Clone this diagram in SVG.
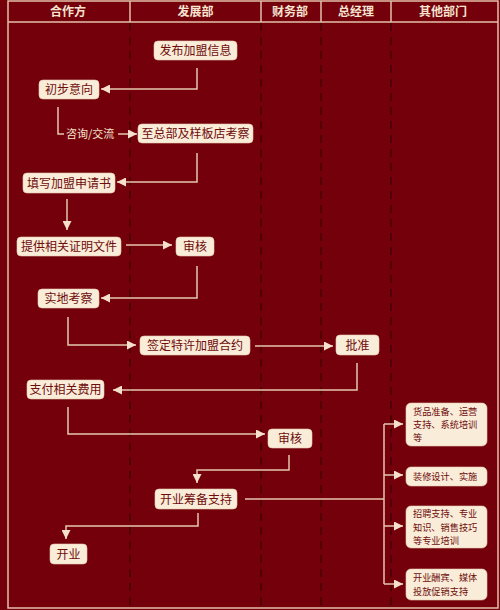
<svg xmlns="http://www.w3.org/2000/svg" width="500" height="610" viewBox="0 0 500 610">
<style>
.bg{fill:#73000a}
.frame{fill:none;stroke:#e3c0a8;stroke-width:1.5}
.lane{stroke:#3a0004;stroke-width:1.2;stroke-dasharray:8 6}
.hd{font-family:"Noto Sans CJK SC","Noto Sans",sans-serif;font-size:12px;font-weight:bold;fill:#f6e4d0;text-anchor:middle}
.node rect{fill:#f9ecd8;stroke:#e8cdb4;stroke-width:0.6}
.node text{font-family:"Noto Sans CJK SC","Noto Sans",sans-serif;font-size:12px;fill:#6e0b0b;text-anchor:middle}
.node text.s{font-size:9.2px;text-anchor:start}
.con path{fill:none;stroke:#e6c6ae;stroke-width:1.5}
.lbl{font-family:"Noto Sans CJK SC","Noto Sans",sans-serif;font-size:11px;fill:#f6e4d0}
</style>
<defs>
<marker id="ah" viewBox="0 0 10 10" refX="10" refY="5" markerWidth="6" markerHeight="6" markerUnits="strokeWidth" orient="auto">
<path d="M0,0 L10,5 L0,10 Z" fill="#f4e0cc"/>
</marker>
</defs>
<rect class="bg" x="0" y="0" width="500" height="610"/>
<g id="lanes">
<line class="lane" x1="130" y1="23" x2="130" y2="608"/>
<line class="lane" x1="261" y1="23" x2="261" y2="608"/>
<line class="lane" x1="321" y1="23" x2="321" y2="608"/>
<line class="lane" x1="391" y1="23" x2="391" y2="608"/>
</g>
<g id="header">
<rect class="frame" x="8" y="1" width="490" height="607"/>
<line class="frame" x1="8" y1="22" x2="498" y2="22"/>
<line class="frame" x1="130" y1="1" x2="130" y2="22"/>
<line class="frame" x1="261" y1="1" x2="261" y2="22"/>
<line class="frame" x1="321" y1="1" x2="321" y2="22"/>
<line class="frame" x1="391" y1="1" x2="391" y2="22"/>
<text class="hd" x="68" y="16">合作方</text>
<text class="hd" x="195.5" y="16">发展部</text>
<text class="hd" x="290" y="16">财务部</text>
<text class="hd" x="356" y="16">总经理</text>
<text class="hd" x="443" y="16">其他部门</text>
</g>
<g id="connectors" class="con">
<path d="M197,68 V89 H101" marker-end="url(#ah)"/>
<path d="M58,107 V134 H64"/>
<path d="M118,134 H137" marker-end="url(#ah)"/>
<path d="M197,153 V182 H117" marker-end="url(#ah)"/>
<path d="M67,199 V230" marker-end="url(#ah)"/>
<path d="M126,245 H172" marker-end="url(#ah)"/>
<path d="M197,266 V298 H101" marker-end="url(#ah)"/>
<path d="M68,317 V345 H136" marker-end="url(#ah)"/>
<path d="M255,346 H333" marker-end="url(#ah)"/>
<path d="M357,363 V390 H113" marker-end="url(#ah)"/>
<path d="M68,407 V434 H265" marker-end="url(#ah)"/>
<path d="M289,455 V470 H197 V483" marker-end="url(#ah)"/>
<path d="M198,513 V526 H66 V539" marker-end="url(#ah)"/>
<path d="M245,499 H384"/>
<path d="M384,424 V584"/>
<path d="M384,424 H403" marker-end="url(#ah)"/>
<path d="M384,475 H403" marker-end="url(#ah)"/>
<path d="M384,526 H403" marker-end="url(#ah)"/>
<path d="M384,584 H403" marker-end="url(#ah)"/>
<text class="lbl" x="66" y="138">咨询/交流</text>
</g>
<g id="n1" class="node"><rect x="154" y="41" width="83" height="19" rx="4"/><text x="195.5" y="55">发布加盟信息</text></g>
<g id="n2" class="node"><rect x="39" y="80" width="60" height="19" rx="4"/><text x="69" y="94">初步意向</text></g>
<g id="n3" class="node"><rect x="138" y="124" width="115" height="19" rx="4"/><text x="195.5" y="138">至总部及样板店考察</text></g>
<g id="n4" class="node"><rect x="23" y="173" width="92" height="20" rx="4"/><text x="69" y="187.5">填写加盟申请书</text></g>
<g id="n5" class="node"><rect x="17" y="237" width="104" height="19" rx="4"/><text x="69" y="251">提供相关证明文件</text></g>
<g id="n6" class="node"><rect x="176" y="237" width="38" height="19" rx="4"/><text x="195" y="251">审核</text></g>
<g id="n7" class="node"><rect x="38" y="289" width="61" height="19" rx="4"/><text x="68.5" y="303">实地考察</text></g>
<g id="n8" class="node"><rect x="140" y="336" width="110" height="19" rx="4"/><text x="195" y="350">签定特许加盟合约</text></g>
<g id="n9" class="node"><rect x="336" y="335" width="43" height="20" rx="4"/><text x="357.5" y="349.5">批准</text></g>
<g id="n10" class="node"><rect x="27" y="380" width="77" height="19" rx="4"/><text x="65.5" y="394">支付相关费用</text></g>
<g id="n11" class="node"><rect x="268" y="429" width="44" height="19" rx="4"/><text x="290" y="443">审核</text></g>
<g id="n12" class="node"><rect x="155" y="489" width="82" height="20" rx="4"/><text x="196" y="503.5">开业筹备支持</text></g>
<g id="n13" class="node"><rect x="50" y="544" width="37" height="20" rx="4"/><text x="68.5" y="558.5">开业</text></g>
<g id="n14" class="node"><rect x="406" y="403" width="81" height="43" rx="5"/><text class="s" x="413" y="414.6"><tspan x="413">货品准备、运营</tspan><tspan x="413" dy="13.4">支持、系统培训</tspan><tspan x="413" dy="13.4">等</tspan></text></g>
<g id="n15" class="node"><rect x="406" y="467" width="81" height="19" rx="5"/><text class="s" x="413" y="480">装修设计、实施</text></g>
<g id="n16" class="node"><rect x="406" y="506" width="81" height="42" rx="5"/><text class="s" x="413" y="517.1"><tspan x="413">招聘支持、专业</tspan><tspan x="413" dy="13.4">知识、销售技巧</tspan><tspan x="413" dy="13.4">等专业培训</tspan></text></g>
<g id="n17" class="node"><rect x="406" y="569" width="81" height="31" rx="5"/><text class="s" x="413" y="581.3"><tspan x="413">开业酬宾、媒体</tspan><tspan x="413" dy="13.4">投放促销支持</tspan></text></g>
</svg>
